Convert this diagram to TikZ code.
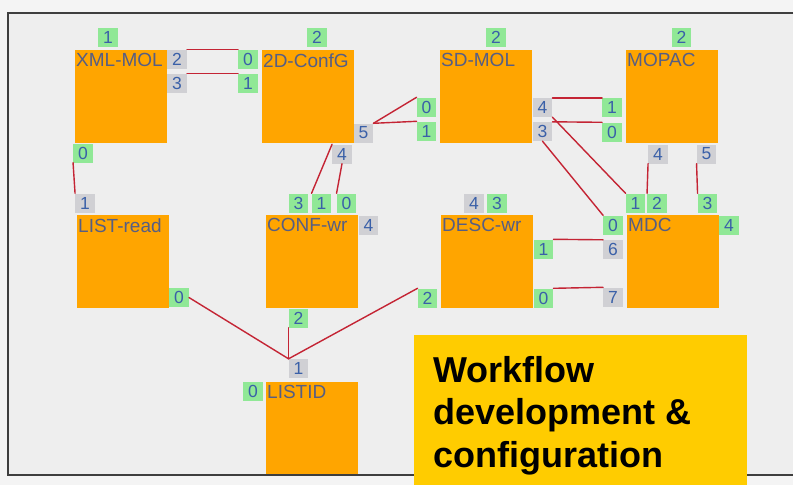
\documentclass[tikz,border=0pt]{standalone}
\usepackage{fontspec}
\setmainfont{Liberation Sans}
\definecolor{Dorange}{RGB}{255,165,0}
\definecolor{Dgreen}{RGB}{144,232,150}
\definecolor{Dgray}{RGB}{208,208,212}
\definecolor{Ddigit}{RGB}{58,96,168}
\definecolor{Dtitle}{RGB}{86,94,132}
\definecolor{Dwire}{RGB}{196,36,52}
\definecolor{Dyellow}{RGB}{255,204,0}
\definecolor{Dpanel}{RGB}{238,238,238}
\definecolor{Dback}{RGB}{244,244,244}
\definecolor{Dframe}{RGB}{62,62,62}
\tikzset{%
    Dblock/.style={shape=rectangle,fill=Dorange,inner sep=0pt,anchor=north west,
        minimum width=92pt,minimum height=93pt},
    Dname/.style={anchor=north west,inner sep=1pt,yshift=-2.5pt,text=Dtitle,
        font=\fontsize{19}{20}\selectfont},
    Dport/.style={shape=rectangle,fill=#1,inner sep=0pt,minimum width=19.5pt,
        minimum height=19pt,text=Ddigit,font=\fontsize{17.5}{18}\selectfont},
    Dport/.default={Dgreen},
    Dwire/.style={draw=Dwire, line width=1.4pt, line cap=round}
}
\begin{document}
\begin{tikzpicture}[x=1pt,y=-1pt]
    \useasboundingbox (0,0) rectangle (798,485);
    \fill [Dback] (0,0) rectangle (798,485);
    \fill [white] (793,0) rectangle (798,485);
    \fill [Dpanel] (8,13) rectangle (793,475);

    % modules (LISTID runs past the bottom edge)
    \begin{scope}
        \clip (8,13) rectangle (793,475);
        \foreach \n/\x/\y/\t in
                {mxml/75/50/XML-MOL,     mcfg/262/50/2D-ConfG,
                 msd/440/50/SD-MOL,      mmop/626/50/MOPAC,
                 mlst/77/215/LIST-read,  mcw/266/215/CONF-wr,
                 mdw/441/215/DESC-wr,    mmdc/627/215/MDC,
                 mlid/266/382/LISTID}
        {
            \node [Dblock] (\n) at (\x,\y) {};
            \node [Dname] at (\n.north west) {\t};
        }
    \end{scope}

    % input ports (green)
    \foreach \n/\x/\y/\t in
            {xmlA/108/37.5/1,   xmlD/83/153/0,
             cfgA/317/37.5/2,   cfgB/248/59/0,    cfgC/248/83/1,
             sdA/496/37.5/2,    sdB/426.5/107/0,  sdC/426.5/131/1,
             mopA/681.5/37.5/2, mopB/612/107.5/1, mopC/612/132/0,
             lstB/179/297.5/0,
             cwA/298.5/203/3,   cwB/321.5/203/1,  cwC/346.5/203/0,  cwE/298.5/318/2,
             dwB/497/203/3,     dwC/543.5/249/1,  dwD/543.5/298/0,  dwE/427.5/298/2,
             mdA/635.5/203/1,   mdB/657/203/2,    mdC/707.5/203/3,
             mdD/729/225/4,     mdE/613/225/0,
             lidB/253/391.5/0}
        \node [Dport] (\n) at (\x,\y) {\t};

    % output ports (gray)
    \foreach \n/\x/\y/\t in
            {xmlB/177/59/2,     xmlC/177/83/3,
             cfgD/363.5/133/5,  cfgE/342/154/4,
             sdD/542.5/107.5/4, sdE/542.5/131.5/3,
             mopD/658/154/4,    mopE/706.5/154/5,
             lstA/85/203/1,     cwD/368.5/225/4,  dwA/474/203/4,
             mdF/613/249.5/6,   mdG/613/297/7,
             lidA/298.5/368.5/1}
        \node [Dport=Dgray] (\n) at (\x,\y) {\t};

    % links
    \draw [Dwire] (xmlB.north east) -- (cfgB.north west);
    \draw [Dwire] (xmlC.north east) -- (cfgC.north west);
    \draw [Dwire] (xmlD.south west) -- (lstA.north west);
    \draw [Dwire] (cfgD.north east) -- (sdB.north west);
    \draw [Dwire] (cfgD.north east) -- (sdC.north west);
    \draw [Dwire] (cfgE.north west) -- (cwB.north west);
    \draw [Dwire] (cfgE.south) -- (cwC.north west);
    \draw [Dwire] (sdD.north east) -- (mopB.north west);
    \draw [Dwire] (sdE.north east) -- (mopC.north west);
    \draw [Dwire] (sdD.south east) -- (mdA.north west);
    \draw [Dwire] (sdE.south) -- (mdE.north west);
    \draw [Dwire] (mopD.south west) -- (mdB.north west);
    \draw [Dwire] (mopE.south west) -- (mdC.north west);
    \draw [Dwire] (dwC.north east) -- (mdF.north west);
    \draw [Dwire] (dwD.north east) -- (mdG.north west);
    \foreach \c in {lstB.east,cwE.south west,dwE.north west}
        \draw [Dwire] (\c) -- (lidA.north west);

    % panel border
    \draw [Dframe, line width=1.5pt] (793,13) -- (8,13) -- (8,475) -- (793,475);

    % caption
    \fill [Dyellow] (414,335) rectangle (747,485);
    \node (caption) [anchor=base west, inner sep=0pt, align=left,
        font=\fontsize{36}{42.5}\selectfont\bfseries] at (433,467)
        {Workflow\\development \&\\configuration};
\end{tikzpicture}
\end{document}
